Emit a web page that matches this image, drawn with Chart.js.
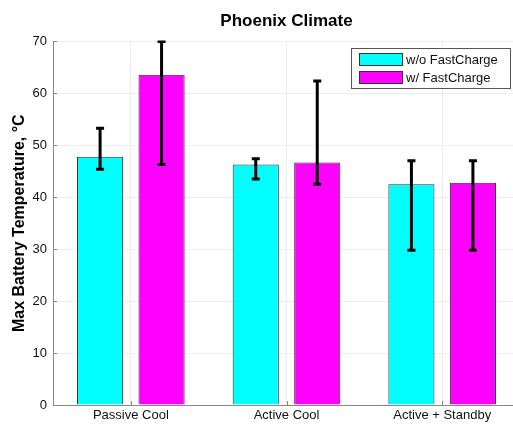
<!DOCTYPE html>
<html>
<head>
<meta charset="utf-8">
<script src="https://cdn.jsdelivr.net/npm/chart.js@4.4.0/dist/chart.umd.min.js"></script>
<style>
  html, body { margin: 0; padding: 0; background: #fff; overflow: hidden; }
  #wrap { width: 520px; height: 425px; }
</style>
</head>
<body>
<div id="wrap"><canvas id="climateChart" width="520" height="425"></canvas></div>
<script>
// Phoenix climate - max battery temperature
const categories = ['Passive Cool', 'Active Cool', 'Active + Standby'];
const seriesNames = ['w/o FastCharge', 'w/ FastCharge'];
const noFast = [47.8, 46.3, 42.5];
const withFast = [63.6, 46.7, 42.8];
// error bar ends (low / high)
const noFastLow = [45.4, 43.5, 29.8];
const noFastHigh = [53.3, 47.4, 47.0];
const withFastLow = [46.3, 42.5, 29.8];
const withFastHigh = [70.0, 62.4, 47.0];
const yTicks = [0, 10, 20, 30, 40, 50, 60, 70];

const FONT = '"Liberation Sans", Arial, sans-serif';

// draw error bars on top of the bars
const errorBars = {
  id: 'errorBars',
  afterDatasetsDraw(chart) {
    const ctx = chart.ctx;
    const y = chart.scales.y;
    const ends = [[noFastLow, noFastHigh], [withFastLow, withFastHigh]];
    ctx.save();
    ctx.beginPath();
    ctx.rect(chart.chartArea.left, chart.chartArea.top - 1, chart.chartArea.width, chart.chartArea.height + 2);
    ctx.clip();
    ctx.strokeStyle = '#000';
    ctx.lineWidth = 3;
    chart.data.datasets.forEach((ds, i) => {
      chart.getDatasetMeta(i).data.forEach((bar, j) => {
        const x = bar.x;
        const lo = y.getPixelForValue(ends[i][0][j]);
        const hi = y.getPixelForValue(ends[i][1][j]);
        ctx.beginPath();
        ctx.moveTo(x, lo); ctx.lineTo(x, hi);
        ctx.moveTo(x - 4, lo); ctx.lineTo(x + 4, lo);
        ctx.moveTo(x - 4, hi); ctx.lineTo(x + 4, hi);
        ctx.stroke();
      });
    });
    ctx.restore();
  }
};

// small inward tick marks like the original axes
const innerTicks = {
  id: 'innerTicks',
  afterDraw(chart) {
    const ctx = chart.ctx;
    const { left, bottom } = chart.chartArea;
    ctx.save();
    ctx.strokeStyle = '#888';
    ctx.lineWidth = 1;
    ctx.beginPath();
    chart.scales.y.ticks.forEach(t => {
      const py = Math.round(chart.scales.y.getPixelForValue(t.value)) + 0.5;
      ctx.moveTo(left, py); ctx.lineTo(left + 4, py);
    });
    chart.scales.x.ticks.forEach((t, i) => {
      const px = Math.round(chart.scales.x.getPixelForValue(i)) + 0.5;
      ctx.moveTo(px, bottom); ctx.lineTo(px, bottom - 4);
    });
    ctx.stroke();
    ctx.restore();
  }
};

// boxed legend in the top right corner of the plot
const boxLegend = {
  id: 'boxLegend',
  afterDraw(chart) {
    const ctx = chart.ctx;
    const x0 = 351, y0 = 48, w = 159, h = 40;
    ctx.save();
    ctx.fillStyle = '#fff';
    ctx.fillRect(x0, y0, w, h);
    ctx.strokeStyle = '#555';
    ctx.lineWidth = 1;
    ctx.strokeRect(x0 + 0.5, y0 + 0.5, w, h);
    ctx.font = '13px ' + FONT;
    ctx.textBaseline = 'middle';
    chart.data.datasets.forEach((ds, i) => {
      const cy = y0 + 11 + i * 18;
      ctx.fillStyle = ds.backgroundColor;
      ctx.fillRect(x0 + 8, cy - 6, 43, 12);
      ctx.strokeStyle = '#333';
      ctx.strokeRect(x0 + 8.5, cy - 5.5, 43, 12);
      ctx.fillStyle = '#111';
      ctx.fillText(ds.label, x0 + 55, cy + 1);
    });
    ctx.restore();
  }
};

new Chart(document.getElementById('climateChart'), {
  type: 'bar',
  data: {
    labels: categories,
    datasets: [
      { label: seriesNames[0], data: noFast, backgroundColor: '#00ffff', borderColor: '#2e2e2e', borderWidth: 1 },
      { label: seriesNames[1], data: withFast, backgroundColor: '#ff00ff', borderColor: '#2e2e2e', borderWidth: 1 }
    ]
  },
  options: {
    responsive: false,
    animation: false,
    categoryPercentage: 0.79,
    barPercentage: 0.75,
    layout: { padding: 0 },
    plugins: {
      legend: { display: false },
      tooltip: { enabled: false },
      title: {
        display: true,
        text: 'Phoenix Climate',
        fullSize: false,
        color: '#000',
        font: { family: FONT, size: 17, weight: 'bold' },
        padding: { top: 11, bottom: 10 }
      }
    },
    scales: {
      x: {
        grid: { offset: false, color: '#ededed', drawTicks: false },
        border: { color: '#888', width: 1 },
        ticks: { color: '#111', font: { family: FONT, size: 13 }, padding: 3 },
        afterFit: s => { s.height = 20; }
      },
      y: {
        min: 0,
        max: 70,
        afterBuildTicks: s => { s.ticks = yTicks.map(v => ({ value: v })); },
        grid: { color: '#ededed', drawTicks: false },
        border: { color: '#888', width: 1 },
        ticks: { color: '#111', font: { family: FONT, size: 13 }, padding: 6 },
        title: {
          display: true,
          text: 'Max Battery Temperature, °C',
          color: '#000',
          font: { family: FONT, size: 16, weight: 'bold' },
          padding: { top: 10, bottom: 0 }
        },
        afterFit: s => { s.width = 53; }
      }
    }
  },
  plugins: [errorBars, innerTicks, boxLegend]
});
</script>
</body>
</html>
